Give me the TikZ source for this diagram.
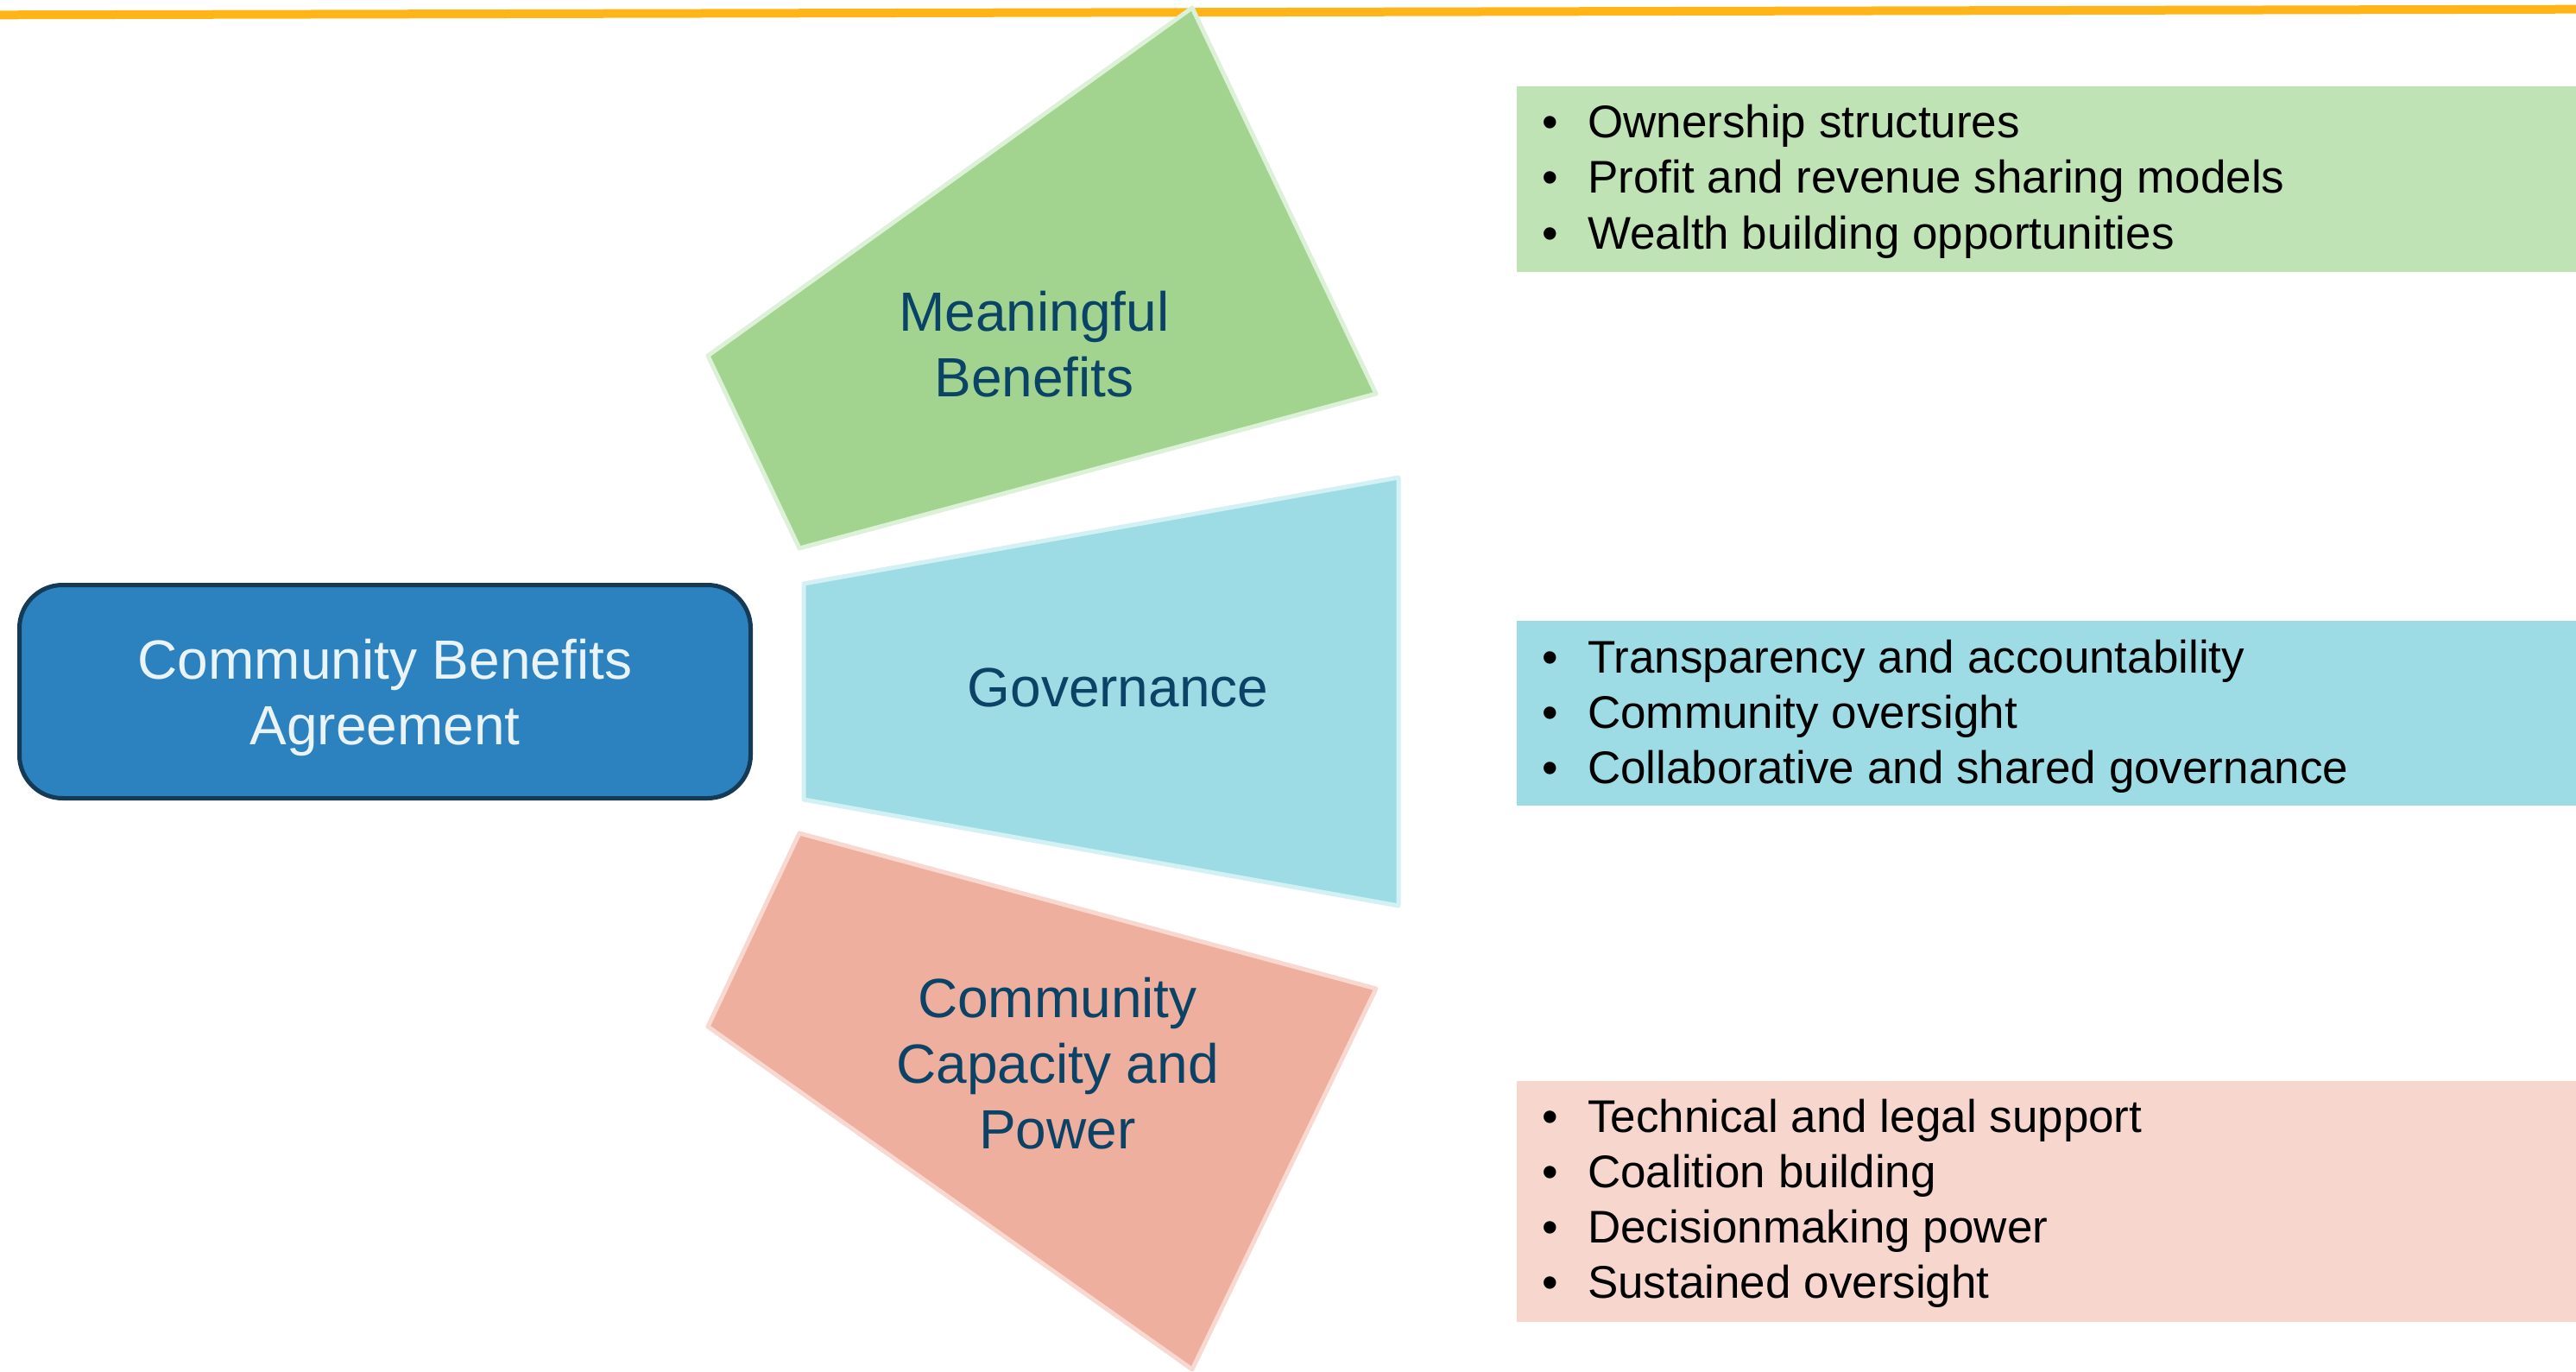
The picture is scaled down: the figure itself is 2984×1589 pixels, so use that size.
\documentclass[tikz,border=0pt]{standalone}
\usepackage{fontspec}
\setmainfont{Liberation Sans}
\usepackage{xcolor}
\usepackage{tikz}
\usetikzlibrary{positioning}
\definecolor{rule}{HTML}{FFB517}
\definecolor{hubfill}{HTML}{2B82BE}
\definecolor{hubedge}{HTML}{153A56}
\definecolor{hubtext}{HTML}{EAF3F8}
\definecolor{fantext}{HTML}{0B4366}
\definecolor{mbfill}{HTML}{A2D490}
\definecolor{mbedge}{HTML}{DDF0D8}
\definecolor{mbbox}{HTML}{BFE3B4}
\definecolor{govfill}{HTML}{9EDCE5}
\definecolor{govedge}{HTML}{D3F0F4}
\definecolor{govbox}{HTML}{9EDCE5}
\definecolor{capfill}{HTML}{EEAF9E}
\definecolor{capedge}{HTML}{F8D9D1}
\definecolor{capbox}{HTML}{F6D6CD}
\tikzstyle{hub} = [rectangle, rounded corners=50pt, minimum width=847pt, minimum height=247pt, draw=hubedge, line width=5pt, fill=hubfill, text=hubtext, align=center, text depth=0pt, font=\fontsize{64}{76}\selectfont]
\tikzstyle{fan} = [line width=5pt, line join=round]
\tikzstyle{fanlabel} = [align=center, text=fantext, inner sep=0pt, font=\fontsize{64}{76}\selectfont]
\tikzstyle{listbox} = [rectangle, anchor=north west, inner sep=0pt, minimum width=1227pt]
\tikzstyle{item} = [anchor=base west, inner sep=0pt, font=\fontsize{53}{64}\selectfont]
\newcommand{\bull}{\makebox[53pt][l]{\textbullet}}

\begin{document}
\begin{tikzpicture}[x=1pt, y=-1pt]
    \useasboundingbox (0,0) rectangle (2984,1589);
    \draw [rule, line width=10pt] (0,17.3) -- (2984,10.7);

    % fan pieces
    \filldraw [fan, fill=mbfill, draw=mbedge] (1381,9) -- (1594,456) -- (926,635) -- (820,412) -- cycle;
    \filldraw [fan, fill=govfill, draw=govedge] (931,676) -- (1620,553) -- (1620,1049) -- (931,926) -- cycle;
    \filldraw [fan, fill=capfill, draw=capedge] (926,965) -- (1594,1145) -- (1381,1586) -- (820,1189) -- cycle;

    \node (cba) [hub] at (446,801) {Community Benefits\\Agreement};
    \node (mb) [fanlabel] at (1198,399) {Meaningful\\Benefits};
    \node (gov) [fanlabel] at (1295,796) {Governance};
    \node (cap) [fanlabel] at (1225,1232) {Community\\Capacity and\\Power};

    % lists
    \node (mblist) [listbox, fill=mbbox, minimum height=215pt] at (1757,100) {};
    \node (govlist) [listbox, fill=govbox, minimum height=214pt] at (1757,719) {};
    \node (caplist) [listbox, fill=capbox, minimum height=279pt] at (1757,1252) {};

    \node (mb1) [item] at (1786,160) {\bull Ownership structures};
    \node (mb2) [item] at (1786,224) {\bull Profit and revenue sharing models};
    \node (mb3) [item] at (1786,288) {\bull Wealth building opportunities};

    \node (gov1) [item] at (1786,779) {\bull Transparency and accountability};
    \node (gov2) [item] at (1786,843) {\bull Community oversight};
    \node (gov3) [item] at (1786,907) {\bull Collaborative and shared governance};

    \node (cap1) [item] at (1786,1311) {\bull Technical and legal support};
    \node (cap2) [item] at (1786,1375) {\bull Coalition building};
    \node (cap3) [item] at (1786,1439) {\bull Decisionmaking power};
    \node (cap4) [item] at (1786,1503) {\bull Sustained oversight};
\end{tikzpicture}
\end{document}
